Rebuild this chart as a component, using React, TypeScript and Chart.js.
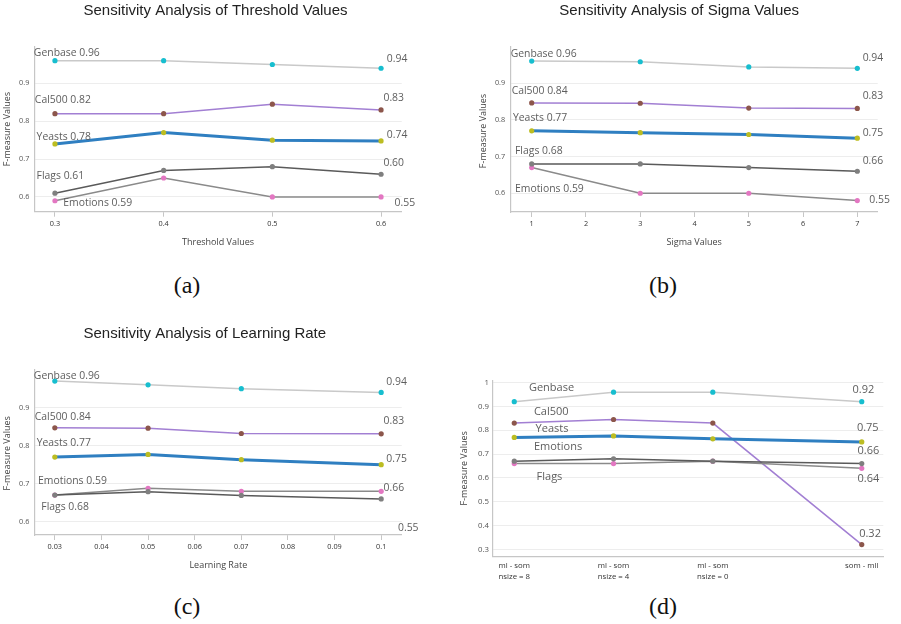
import React, { useEffect, useRef } from "react";
import { Chart, registerables } from "chart.js";

Chart.register(...registerables);

// ---------------- DATA ----------------
const seriesNames = ["Genbase", "Cal500", "Yeasts", "Emotions", "Flags"];

// (a) Threshold
const thrX = [0.3, 0.4, 0.5, 0.6];
const thrGenbase = [0.96, 0.96, 0.95, 0.94];
const thrCal500 = [0.82, 0.82, 0.845, 0.83];
const thrYeasts = [0.74, 0.77, 0.75, 0.748];
const thrEmotions = [0.59, 0.65, 0.6, 0.6];
const thrFlags = [0.61, 0.67, 0.68, 0.66];
const thrXTicks = [0.3, 0.4, 0.5, 0.6];
const thrNoteText = ["Genbase 0.96", "Cal500 0.82", "Yeasts 0.78", "Flags 0.61", "Emotions 0.59", "0.94", "0.83", "0.74", "0.60", "0.55"];
const thrNoteX = [0.2806, 0.2815, 0.2831, 0.2831, 0.3077, 0.6053, 0.6022, 0.6053, 0.6022, 0.6124];
const thrNoteY = [0.979, 0.856, 0.759, 0.655, 0.583, 0.964, 0.862, 0.764, 0.689, 0.585];

// (b) Sigma
const sigX = [1, 3, 5, 7];
const sigGenbase = [0.96, 0.958, 0.944, 0.94];
const sigCal500 = [0.846, 0.845, 0.832, 0.831];
const sigYeasts = [0.77, 0.765, 0.76, 0.75];
const sigEmotions = [0.67, 0.6, 0.6, 0.58];
const sigFlags = [0.68, 0.68, 0.67, 0.66];
const sigXTicks = [1, 2, 3, 4, 5, 6, 7];
const sigNoteText = ["Genbase 0.96", "Cal500 0.84", "Yeasts 0.77", "Flags 0.68", "Emotions 0.59", "0.94", "0.83", "0.75", "0.66", "0.55"];
const sigNoteX = [0.613, 0.631, 0.655, 0.692, 0.692, 7.099, 7.099, 7.099, 7.099, 7.221];
const sigNoteY = [0.98, 0.878, 0.804, 0.715, 0.612, 0.967, 0.864, 0.765, 0.689, 0.582];

// (c) Learning rate
const lrX = [0.03, 0.05, 0.07, 0.1];
const lrGenbase = [0.97, 0.96, 0.95, 0.94];
const lrCal500 = [0.847, 0.846, 0.832, 0.831];
const lrYeasts = [0.77, 0.777, 0.763, 0.75];
const lrEmotions = [0.67, 0.688, 0.68, 0.68];
const lrFlags = [0.67, 0.679, 0.669, 0.66];
const lrXTicks = [0.03, 0.04, 0.05, 0.06, 0.07, 0.08, 0.09, 0.1];
const lrNoteText = ["Genbase 0.96", "Cal500 0.84", "Yeasts 0.77", "Emotions 0.59", "Flags 0.68", "0.94", "0.83", "0.75", "0.66", "0.55"];
const lrNoteX = [0.0255, 0.0257, 0.0261, 0.0264, 0.0271, 0.1011, 0.1005, 0.1011, 0.1005, 0.1036];
const lrNoteY = [0.982, 0.876, 0.806, 0.708, 0.638, 0.968, 0.865, 0.765, 0.688, 0.583];

// (d) Variants
const varX = [0, 1, 2, 3.5];
const varCategories = [["ml - som", "nsize = 8"], ["ml - som", "nsize = 4"], ["ml - som", "nsize = 0"], ["som - mll"]];
const varGenbase = [0.92, 0.96, 0.96, 0.92];
const varCal500 = [0.83, 0.845, 0.83, 0.32];
const varYeasts = [0.77, 0.776, 0.764, 0.751];
const varEmotions = [0.66, 0.66, 0.67, 0.64];
const varFlags = [0.67, 0.68, 0.67, 0.66];
const varNoteText = ["Genbase", "Cal500", "Yeasts", "Emotions", "Flags", "0.92", "0.75", "0.66", "0.64", "0.32"];
const varNoteX = [0.148, 0.198, 0.215, 0.198, 0.225, 3.407, 3.451, 3.457, 3.457, 3.474];
const varNoteY = [0.978, 0.876, 0.804, 0.731, 0.605, 0.969, 0.808, 0.713, 0.595, 0.367];

const yTicksAC = [0.6, 0.7, 0.8, 0.9];
const yTicksD = [0.3, 0.4, 0.5, 0.6, 0.7, 0.8, 0.9, 1];

// ---------------- STYLES ----------------
const STYLE: Record<string, { line: string; marker: string; width: number }> = {
  Genbase: { line: "#c9c9c9", marker: "#17becf", width: 1.5 },
  Cal500: { line: "#a27fd3", marker: "#8c564b", width: 1.5 },
  Yeasts: { line: "#2f7fc1", marker: "#bcbd22", width: 3 },
  Emotions: { line: "#8a8a8a", marker: "#e377c2", width: 1.5 },
  Flags: { line: "#5a5a5a", marker: "#7f7f7f", width: 1.5 },
};

const AXIS_COLOR = "#c6c6c6";
const GRID_COLOR = "#ededed";
const TICK_COLOR = "#333";
const NOTE_COLOR = "#5e5e5e";
const SANS = '"Open Sans", "Noto Sans", sans-serif';
const TITLE_FONT = '"Liberation Sans", Arial, sans-serif';

type Pos = { text: string; x: number; y: number };

type PanelCfg = {
  left: number; top: number; width: number; height: number;
  area: { left: number; top: number; right: number; bottom: number };
  xMin: number; xMax: number; yMin: number; yMax: number;
  xs: number[]; series: number[][];
  xTicks: number[]; yTicks: number[];
  xLabel: (v: number) => string | string[];
  tickMarks: boolean; xTickPad: number; yTickPad: number; tickSize: number;
  noteText: string[]; noteX: number[]; noteY: number[]; noteSize: number;
  title?: Pos; xTitle?: Pos; yTitle: Pos;
};

const fmt = (v: number) => String(Number(v.toFixed(3)));

function Panel({ cfg }: { cfg: PanelCfg }) {
  const ref = useRef<HTMLCanvasElement>(null);
  useEffect(() => {
    if (!ref.current) return;
    const { area, width, height } = cfg;
    const textPlugin = {
      id: "panelText",
      afterDatasetsDraw(chart: any) {
        const ctx = chart.ctx as CanvasRenderingContext2D;
        const xs = chart.scales.x;
        const ys = chart.scales.y;
        ctx.save();
        ctx.fillStyle = NOTE_COLOR;
        ctx.font = `${cfg.noteSize}px ${SANS}`;
        ctx.textAlign = "left";
        ctx.textBaseline = "middle";
        cfg.noteText.forEach((t, i) => {
          ctx.fillText(t, xs.getPixelForValue(cfg.noteX[i]), ys.getPixelForValue(cfg.noteY[i]));
        });
        if (cfg.title) {
          ctx.fillStyle = "#222";
          ctx.font = `15px ${TITLE_FONT}`;
          ctx.textAlign = "center";
          ctx.fillText(cfg.title.text, cfg.title.x, cfg.title.y);
        }
        ctx.fillStyle = "#444";
        ctx.font = `9px ${SANS}`;
        ctx.textAlign = "center";
        if (cfg.xTitle) ctx.fillText(cfg.xTitle.text, cfg.xTitle.x, cfg.xTitle.y);
        ctx.translate(cfg.yTitle.x, cfg.yTitle.y);
        ctx.rotate(-Math.PI / 2);
        ctx.fillText(cfg.yTitle.text, 0, 0);
        ctx.restore();
      },
    };
    const chart = new Chart(ref.current, {
      type: "line",
      data: {
        datasets: cfg.series.map((vals, i) => {
          const st = STYLE[seriesNames[i]];
          return {
            label: seriesNames[i],
            data: cfg.xs.map((x, j) => ({ x, y: vals[j] })),
            borderColor: st.line,
            borderWidth: st.width,
            pointBackgroundColor: st.marker,
            pointBorderColor: st.marker,
            pointBorderWidth: 0,
            pointRadius: 2.6,
            pointHoverRadius: 2.6,
            fill: false,
            tension: 0,
            order: 10 - i,
          };
        }),
      },
      options: {
        responsive: false,
        animation: false,
        events: [],
        layout: { padding: { left: 0, top: area.top, right: width - area.right, bottom: 0 } },
        plugins: { legend: { display: false }, tooltip: { enabled: false }, title: { display: false } },
        scales: {
          x: {
            type: "linear",
            min: cfg.xMin,
            max: cfg.xMax,
            afterFit: (s: any) => { s.height = height - area.bottom; },
            afterBuildTicks: (s: any) => { s.ticks = cfg.xTicks.map((v) => ({ value: v })); },
            grid: { display: cfg.tickMarks, drawOnChartArea: false, drawTicks: cfg.tickMarks, tickLength: 5, color: AXIS_COLOR },
            border: { display: true, color: AXIS_COLOR, width: 1.2 },
            ticks: {
              autoSkip: false, maxRotation: 0, padding: cfg.xTickPad, color: TICK_COLOR,
              font: { family: SANS, size: cfg.tickSize, lineHeight: 1.3 },
              callback: (v: any) => cfg.xLabel(Number(v)),
            },
          },
          y: {
            type: "linear",
            min: cfg.yMin,
            max: cfg.yMax,
            afterFit: (s: any) => { s.width = area.left; },
            afterBuildTicks: (s: any) => { s.ticks = cfg.yTicks.map((v) => ({ value: v })); },
            grid: { display: true, drawTicks: false, color: GRID_COLOR, lineWidth: 1 },
            border: { display: true, color: AXIS_COLOR, width: 1.2 },
            ticks: {
              padding: cfg.yTickPad, color: "#555",
              font: { family: SANS, size: cfg.tickSize },
              callback: (v: any) => fmt(Number(v)),
            },
          },
        },
      },
      plugins: [textPlugin],
    } as any);
    return () => chart.destroy();
  }, [cfg]);
  return (
    <canvas
      ref={ref}
      width={cfg.width}
      height={cfg.height}
      style={{ position: "absolute", left: cfg.left, top: cfg.top, width: cfg.width, height: cfg.height }}
    />
  );
}

const panelA: PanelCfg = {
  left: 0, top: 0, width: 450, height: 260,
  area: { left: 34.3, top: 46.7, right: 401.7, bottom: 211.7 },
  xMin: 0.281, xMax: 0.619, yMin: 0.561, yMax: 0.997,
  xs: thrX, series: [thrGenbase, thrCal500, thrYeasts, thrEmotions, thrFlags],
  xTicks: thrXTicks, yTicks: yTicksAC, xLabel: fmt,
  tickMarks: true, xTickPad: 2, yTickPad: 5, tickSize: 7.3,
  noteText: thrNoteText, noteX: thrNoteX, noteY: thrNoteY, noteSize: 10.4,
  title: { text: "Sensitivity Analysis of Threshold Values", x: 215.5, y: 10.5 },
  xTitle: { text: "Threshold Values", x: 218, y: 242 },
  yTitle: { text: "F-measure Values", x: 7.5, y: 129 },
};

const panelB: PanelCfg = {
  left: 450, top: 0, width: 451, height: 260,
  area: { left: 60.7, top: 46.7, right: 427.7, bottom: 212 },
  xMin: 0.613, xMax: 7.376, yMin: 0.549, yMax: 0.999,
  xs: sigX, series: [sigGenbase, sigCal500, sigYeasts, sigEmotions, sigFlags],
  xTicks: sigXTicks, yTicks: yTicksAC, xLabel: fmt,
  tickMarks: true, xTickPad: 2, yTickPad: 5.5, tickSize: 7.3,
  noteText: sigNoteText, noteX: sigNoteX, noteY: sigNoteY, noteSize: 10.4,
  title: { text: "Sensitivity Analysis of Sigma Values", x: 229.2, y: 10.5 },
  xTitle: { text: "Sigma Values", x: 244.2, y: 242 },
  yTitle: { text: "F-measure Values", x: 33.3, y: 131 },
};

const panelC: PanelCfg = {
  left: 0, top: 310, width: 450, height: 270,
  area: { left: 34.3, top: 60, right: 401.7, bottom: 225 },
  xMin: 0.0256, xMax: 0.1044, yMin: 0.565, yMax: 0.999,
  xs: lrX, series: [lrGenbase, lrCal500, lrYeasts, lrEmotions, lrFlags],
  xTicks: lrXTicks, yTicks: yTicksAC, xLabel: fmt,
  tickMarks: true, xTickPad: 2, yTickPad: 5, tickSize: 7.3,
  noteText: lrNoteText, noteX: lrNoteX, noteY: lrNoteY, noteSize: 10.4,
  title: { text: "Sensitivity Analysis of Learning Rate", x: 204.8, y: 23.5 },
  xTitle: { text: "Learning Rate", x: 218.3, y: 255 },
  yTitle: { text: "F-measure Values", x: 7.5, y: 143.3 },
};

const panelD: PanelCfg = {
  left: 450, top: 360, width: 451, height: 220,
  area: { left: 42.7, top: 20.7, right: 433.3, bottom: 196.7 },
  xMin: -0.217, xMax: 3.717, yMin: 0.269, yMax: 1.008,
  xs: varX, series: [varGenbase, varCal500, varYeasts, varEmotions, varFlags],
  xTicks: varX, yTicks: yTicksD,
  xLabel: (v: number) => { const i = varX.indexOf(v); return i >= 0 ? varCategories[i] : ""; },
  tickMarks: false, xTickPad: 4.5, yTickPad: 3.7, tickSize: 7.8,
  noteText: varNoteText, noteX: varNoteX, noteY: varNoteY, noteSize: 11,
  yTitle: { text: "F-measure Values", x: 14, y: 108.3 },
};

const captionStyle: React.CSSProperties = {
  position: "absolute",
  width: 60,
  marginLeft: -30,
  textAlign: "center",
  fontFamily: '"Liberation Serif", "DejaVu Serif", serif',
  fontSize: 24,
  lineHeight: "28px",
  color: "#111",
};

export default function App() {
  return (
    <div style={{ position: "absolute", left: 0, top: 0, width: 901, height: 624, background: "#fff", overflow: "hidden" }}>
      <Panel cfg={panelA} />
      <Panel cfg={panelB} />
      <Panel cfg={panelC} />
      <Panel cfg={panelD} />
      <div style={{ ...captionStyle, left: 187, top: 271 }}>(a)</div>
      <div style={{ ...captionStyle, left: 663, top: 271 }}>(b)</div>
      <div style={{ ...captionStyle, left: 187, top: 592 }}>(c)</div>
      <div style={{ ...captionStyle, left: 663, top: 592 }}>(d)</div>
    </div>
  );
}
